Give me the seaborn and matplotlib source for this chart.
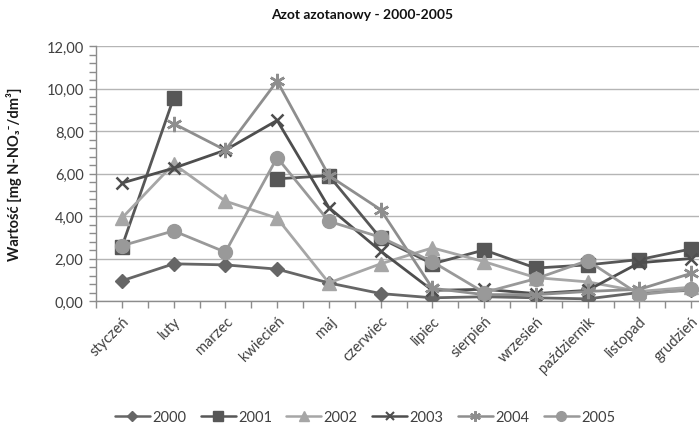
import numpy as np
import pandas as pd
import seaborn as sns
import matplotlib
matplotlib.use("Agg")
import matplotlib.pyplot as plt
from matplotlib.lines import Line2D
from matplotlib.ticker import MultipleLocator, FuncFormatter

months = ["styczeń", "luty", "marzec", "kwiecień", "maj", "czerwiec",
          "lipiec", "sierpień", "wrzesień", "październik", "listopad", "grudzień"]
years = ["2000", "2001", "2002", "2003", "2004", "2005"]

v2000 = [0.95, 1.75, 1.70, 1.50, 0.85, 0.35, 0.15, 0.20, 0.15, 0.10, 0.40, 0.50]
v2001 = [2.55, 9.55, np.nan, 5.75, 5.90, 2.95, 1.75, 2.40, 1.55, 1.70, 1.95, 2.45]
v2002 = [3.90, 6.45, 4.70, 3.90, 0.85, 1.75, 2.50, 1.85, 1.10, 0.90, 0.45, 0.65]
v2003 = [5.55, 6.25, 7.10, 8.50, 4.40, 2.35, 0.50, 0.55, 0.35, 0.50, 1.80, 2.00]
v2004 = [np.nan, 8.35, 7.10, 10.35, 5.90, 4.30, 0.60, 0.30, 0.30, 0.45, 0.55, 1.30]
v2005 = [2.60, 3.30, 2.30, 6.75, 3.75, 3.00, 1.85, 0.40, 1.05, 1.90, 0.30, 0.55]

series = {"2000": v2000, "2001": v2001, "2002": v2002,
          "2003": v2003, "2004": v2004, "2005": v2005}

colors = {"2000": "#666666", "2001": "#575757", "2002": "#a6a6a6",
          "2003": "#4e4e4e", "2004": "#8e8e8e", "2005": "#999999"}
markers = {"2000": "D", "2001": "s", "2002": "^", "2003": "x",
           "2004": (6, 2, 0), "2005": "o"}
msizes = {"2000": 7, "2001": 9.5, "2002": 10, "2003": 9, "2004": 11, "2005": 10}

# long data with segment ids so that gaps are not bridged
rows = []
for y in years:
    seg = 0
    for i, (m, v) in enumerate(zip(months, series[y])):
        if np.isnan(v):
            seg += 1
            continue
        rows.append({"miesiac": i, "wartosc": v, "rok": y, "seg": f"{y}-{seg}"})
df = pd.DataFrame(rows)

sns.set_theme(style="white")
plt.rcParams["font.family"] = ["Lato", "DejaVu Sans"]

fig = plt.figure(figsize=(6.99, 4.27), dpi=100)
L, R, T, B = 96, 717, 47, 302
ax = fig.add_axes([L / 699, 1 - B / 427, (R - L) / 699, (B - T) / 427])

for y in years:
    sub = df[df["rok"] == y]
    sns.lineplot(data=sub, x="miesiac", y="wartosc", units="seg", estimator=None,
                 color=colors[y], marker=markers[y], markersize=msizes[y],
                 markeredgecolor=colors[y], markerfacecolor=colors[y],
                 markeredgewidth=1.8 if y in ("2003", "2004") else 1,
                 linewidth=2, ax=ax, legend=False, zorder=3)

ax.set_xlim(-0.5, 11.5)
ax.set_ylim(0, 12)
ax.yaxis.set_major_locator(MultipleLocator(2))
ax.yaxis.set_minor_locator(MultipleLocator(0.4))
ax.yaxis.set_major_formatter(FuncFormatter(lambda v, p: f"{v:.2f}".replace(".", ",")))
ax.set_xticks(range(12))
ax.set_xticklabels(months, rotation=45, ha="right", rotation_mode="anchor")
ax.xaxis.set_minor_locator(MultipleLocator(1, offset=0.5))
ax.grid(axis="y", which="major", color="#b5b5b5", linewidth=1)
ax.grid(axis="x", visible=False)
for s in ("top", "right"):
    ax.spines[s].set_visible(False)
for s in ("left", "bottom"):
    ax.spines[s].set_color("#8c8c8c")
    ax.spines[s].set_linewidth(1)
ax.tick_params(axis="both", which="both", direction="out", color="#8c8c8c",
               length=5, width=1, left=True, bottom=True)
ax.tick_params(axis="y", which="major", labelsize=10.5, labelcolor="#404040", pad=4)
ax.tick_params(axis="x", which="major", labelsize=10.5, labelcolor="#404040", pad=4)
ax.set_xlabel("")
ax.set_ylabel("Wartość [mg N-NO₃⁻/dm³]", fontsize=10.5, fontweight="bold", color="#1a1a1a")
ax.yaxis.set_label_coords((22 - L) / (R - L), 0.5)

fig.text(362 / 699, 1 - 15 / 427, "Azot azotanowy - 2000-2005", ha="center", va="center",
         fontsize=10, fontweight="bold", color="#111111")

handles = [Line2D([0], [0], color=colors[y], marker=markers[y], markersize=msizes[y] * 0.7,
                  markeredgecolor=colors[y], markerfacecolor=colors[y],
                  markeredgewidth=1.5 if y in ("2003", "2004") else 1, linewidth=1.8)
           for y in years]
fig.legend(handles, years, loc="center", bbox_to_anchor=(365 / 699, 1 - 418 / 427),
           ncol=6, frameon=False, handlelength=2.4, handletextpad=0.15,
           columnspacing=1.0, fontsize=10.5, labelcolor="#404040")

fig.savefig("out.png", dpi=100)
